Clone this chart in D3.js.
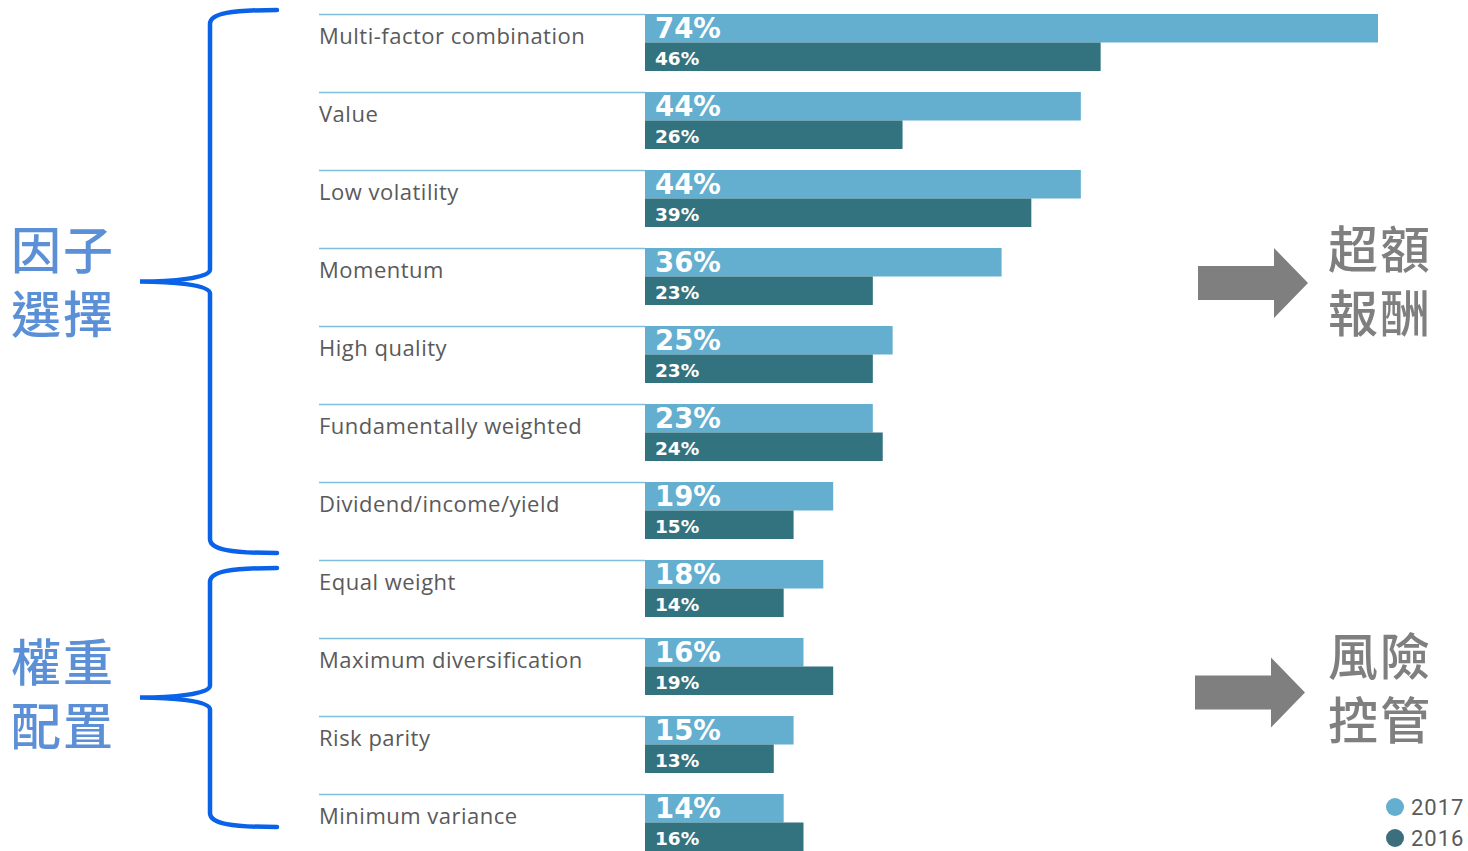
<!DOCTYPE html>
<html>
<head>
<meta charset="utf-8">
<script src="https://cdn.jsdelivr.net/npm/d3@7"></script>
<style>
  html, body { margin: 0; padding: 0; background: #ffffff; }
  svg { display: block; }
</style>
</head>
<body>
<svg id="chart" width="1468" height="851"></svg>
<script>
const categories = [
  "Multi-factor combination", "Value", "Low volatility", "Momentum", "High quality",
  "Fundamentally weighted", "Dividend/income/yield", "Equal weight",
  "Maximum diversification", "Risk parity", "Minimum variance"
];
const values2017 = [74, 44, 44, 36, 25, 23, 19, 18, 16, 15, 14];
const values2016 = [46, 26, 39, 23, 23, 24, 15, 14, 19, 13, 16];
const seriesNames = ["2017", "2016"];
const groupLabels = [["因子", "選擇"], ["權重", "配置"]];
const groupRanges = [[0, 6], [7, 10]];
const noteLabels = [["超額", "報酬"], ["風險", "控管"]];

const colors = { "2017": "#64aecf", "2016": "#33737f" };
const svg = d3.select("#chart");

const y = d3.scaleBand().domain(categories).range([14, 14 + 78 * categories.length]).paddingInner(0).paddingOuter(0);
const ySub = d3.scaleBand().domain(seriesNames).range([0, 57]);
const x = d3.scaleLinear().domain([0, 74]).range([645, 1378]);

const rows = svg.append("g").selectAll("g.row")
  .data(categories.map((c, i) => ({ c, i, v: { "2017": values2017[i], "2016": values2016[i] } })))
  .join("g").attr("class", "row")
  .attr("transform", d => `translate(0,${y(d.c)})`);

rows.append("line")
  .attr("x1", 319).attr("x2", x(0)).attr("y1", 0.5).attr("y2", 0.5)
  .attr("stroke", "#7fbfdd").attr("stroke-width", 1.5);

rows.append("text")
  .attr("x", 319).attr("y", 30)
  .attr("font-family", "'Open Sans', sans-serif")
  .attr("font-size", 22)
  .attr("fill", "#5a5a5a")
  .attr("letter-spacing", 0.5)
  .text(d => d.c);

seriesNames.forEach(s => {
  rows.append("rect")
    .attr("x", x(0))
    .attr("y", ySub(s))
    .attr("width", d => x(d.v[s]) - x(0))
    .attr("height", ySub.bandwidth())
    .attr("fill", colors[s]);
});

rows.append("text")
  .attr("x", 655).attr("y", ySub("2017") + 24)
  .attr("font-family", "'DejaVu Sans', sans-serif")
  .attr("font-weight", 700)
  .attr("font-size", 27.5)
  .attr("fill", "#ffffff")
  .text(d => d.v["2017"] + "%");

rows.append("text")
  .attr("x", 655).attr("y", ySub("2016") + 22)
  .attr("font-family", "'DejaVu Sans', sans-serif")
  .attr("font-weight", 700)
  .attr("font-size", 18.5)
  .attr("fill", "#ffffff")
  .text(d => d.v["2016"] + "%");

// Curly braces and group labels
const braceColor = "#0a62e8";
const topOffset = [-4, 8];
const mids = [];
groupRanges.forEach((r, gi) => {
  const top = y(categories[r[0]]) + topOffset[gi];
  const bot = gi === 0 ? y(categories[r[1] + 1]) - 7 : y(categories[r[1]]) + 33;
  const mid = (top + bot) / 2;
  mids.push(mid);
  const xr = 277, xv = 210, xt = 140;
  const p = `M ${xr} ${top} C ${xr - 45} ${top}, ${xv} ${top + 3}, ${xv} ${top + 14}
             L ${xv} ${mid - 12} C ${xv} ${mid - 3}, ${xt + 30} ${mid}, ${xt} ${mid}
             C ${xt + 30} ${mid}, ${xv} ${mid + 3}, ${xv} ${mid + 12}
             L ${xv} ${bot - 14} C ${xv} ${bot - 3}, ${xr - 45} ${bot}, ${xr} ${bot}`;
  svg.append("path").attr("d", p).attr("fill", "none")
    .attr("stroke", braceColor).attr("stroke-width", 4.5).attr("stroke-linecap", "round");
  const lab = svg.append("text")
    .attr("text-anchor", "middle")
    .attr("font-family", "'Noto Sans CJK TC', sans-serif")
    .attr("font-weight", 500)
    .attr("font-size", 50)
    .attr("letter-spacing", 2)
    .attr("fill", "#5b8fd6");
  groupLabels[gi].forEach((t, k) => {
    lab.append("tspan").attr("x", 63).attr("y", mid + [-13, -17][gi] + k * 64).text(t);
  });
});

// Right arrows + notes
const arrowShift = [1.5, -5];
const arrowX = [1198, 1195];
noteLabels.forEach((lines, idx) => {
  const cy = mids[idx] + arrowShift[idx];
  const x0 = arrowX[idx];
  const pts = [
    [x0, cy - 17], [x0 + 76, cy - 17], [x0 + 76, cy - 35], [x0 + 110, cy],
    [x0 + 76, cy + 35], [x0 + 76, cy + 17], [x0, cy + 17]
  ];
  svg.append("path").attr("d", d3.line()(pts) + "Z").attr("fill", "#7f7f7f");
  const lab = svg.append("text")
    .attr("text-anchor", "middle")
    .attr("font-family", "'Noto Sans CJK TC', sans-serif")
    .attr("font-weight", 500)
    .attr("font-size", 50)
    .attr("letter-spacing", 2)
    .attr("fill", "#7f7f7f");
  lines.forEach((t, k) => {
    lab.append("tspan").attr("x", 1380).attr("y", cy + [-15, -17.5][idx] + k * 64).text(t);
  });
});

// Legend
const legColors = ["#64aecf", "#3d6e7d"];
seriesNames.forEach((s, i) => {
  svg.append("circle").attr("cx", 1395).attr("cy", 807 + i * 31).attr("r", 9).attr("fill", legColors[i]);
  svg.append("text").attr("x", 1411).attr("y", 815 + i * 31)
    .attr("font-family", "Roboto, sans-serif").attr("font-size", 22)
    .attr("letter-spacing", 1)
    .attr("fill", "#5a5a5a").text(s);
});
</script>
</body>
</html>
